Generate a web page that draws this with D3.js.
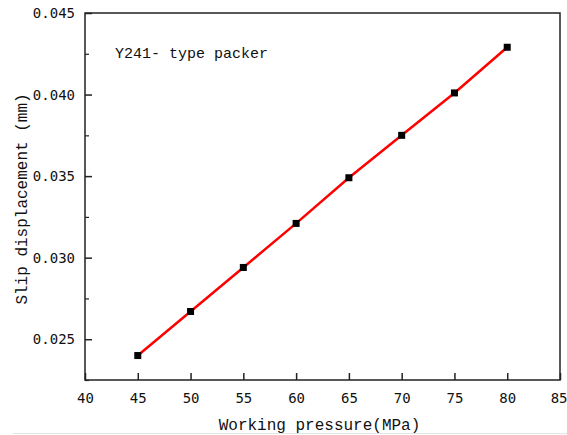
<!DOCTYPE html>
<html>
<head>
<meta charset="utf-8">
<script src="https://cdn.jsdelivr.net/npm/d3@7"></script>
<style>
  body { margin: 0; background: #fff; }
  text { fill: #111; }
</style>
</head>
<body>
<script>
// data
var pressure = [45, 50, 55, 60, 65, 70, 75, 80];
var slip = [0.0240, 0.0267, 0.0294, 0.0321, 0.0349, 0.0375, 0.0401, 0.0429];
var xTicks = [40, 45, 50, 55, 60, 65, 70, 75, 80, 85];
var yTicks = [0.025, 0.030, 0.035, 0.040, 0.045];
var yMinor = [0.0225, 0.0275, 0.0325, 0.0375, 0.0425];

var w = 567, h = 435;
var padL = 85, padR = 560, padT = 13, padB = 380;

var svg = d3.select("body").append("svg")
  .attr("width", w)
  .attr("height", h);

var x = d3.scaleLinear().domain([40, 85]).range([padL, padR]);
var y = d3.scaleLinear().domain([0.0225, 0.045]).range([padB, padT]);

// frame
svg.append("rect")
  .attr("x", padL).attr("y", padT)
  .attr("width", padR - padL).attr("height", padB - padT)
  .style("fill", "none")
  .style("stroke", "#222")
  .style("stroke-width", 1.5);

// x axis, ticks pointing inward
var xAxis = d3.axisBottom(x).tickValues(xTicks).tickSizeInner(-7).tickSizeOuter(0).tickPadding(13);
svg.append("g")
  .attr("transform", "translate(0," + padB + ")")
  .call(xAxis)
  .call(function(g){
    g.select(".domain").remove();
    g.selectAll(".tick line").style("stroke", "#222").style("stroke-width", 1.5);
    g.selectAll(".tick text")
      .style("font-family", "DejaVu Sans Mono")
      .style("font-size", "14px")
      .style("fill", "#111");
    // last label sits at the window edge, nudge it in
    g.selectAll(".tick text").filter(function(d){ return d === 85; })
      .attr("text-anchor", "end").attr("x", 7);
  });

// y axis
var yAxis = d3.axisLeft(y).tickValues(yTicks).tickSizeInner(-7).tickSizeOuter(0).tickPadding(10)
  .tickFormat(d3.format(".3f"));
svg.append("g")
  .attr("transform", "translate(" + padL + ",0)")
  .call(yAxis)
  .call(function(g){
    g.select(".domain").remove();
    g.selectAll(".tick line").style("stroke", "#222").style("stroke-width", 1.5);
    g.selectAll(".tick text")
      .style("font-family", "DejaVu Sans Mono")
      .style("font-size", "14px")
      .style("fill", "#111");
  });

// y minor ticks
svg.append("g")
  .attr("transform", "translate(" + padL + ",0)")
  .call(d3.axisLeft(y).tickValues(yMinor).tickSizeInner(-4).tickSizeOuter(0).tickFormat(""))
  .call(function(g){
    g.select(".domain").remove();
    g.selectAll(".tick line").style("stroke", "#222").style("stroke-width", 1.2);
  });

// red line
var line = d3.line()
  .x(function(d, i){ return x(pressure[i]); })
  .y(function(d){ return y(d); });
svg.append("path")
  .datum(slip)
  .attr("d", line)
  .style("fill", "none")
  .style("stroke", "#ff0000")
  .style("stroke-width", 2.5);

// square markers
svg.selectAll(".pt")
  .data(slip)
  .enter()
  .append("rect")
  .attr("class", "pt")
  .attr("x", function(d, i){ return x(pressure[i]) - 3.5; })
  .attr("y", function(d){ return y(d) - 3.5; })
  .attr("width", 7)
  .attr("height", 7)
  .style("fill", "#000");

// annotation
svg.append("text")
  .attr("x", 115).attr("y", 58)
  .style("font-family", "Liberation Mono")
  .style("font-size", "15px")
  .text("Y241- type packer");

// axis titles
svg.append("text")
  .attr("x", (padL + padR) / 2 - 3).attr("y", 430)
  .attr("text-anchor", "middle")
  .style("font-family", "Liberation Mono")
  .style("font-size", "16px")
  .text("Working pressure(MPa)");

svg.append("text")
  .attr("transform", "translate(27," + 199 + ") rotate(-90)")
  .attr("text-anchor", "middle")
  .style("font-family", "Liberation Mono")
  .style("font-size", "16px")
  .text("Slip displacement (mm)");

// faint separator at the bottom
svg.append("line")
  .attr("x1", 13).attr("x2", w)
  .attr("y1", 433.5).attr("y2", 433.5)
  .style("stroke", "#e4e4e4")
  .style("stroke-width", 1);
</script>
</body>
</html>
